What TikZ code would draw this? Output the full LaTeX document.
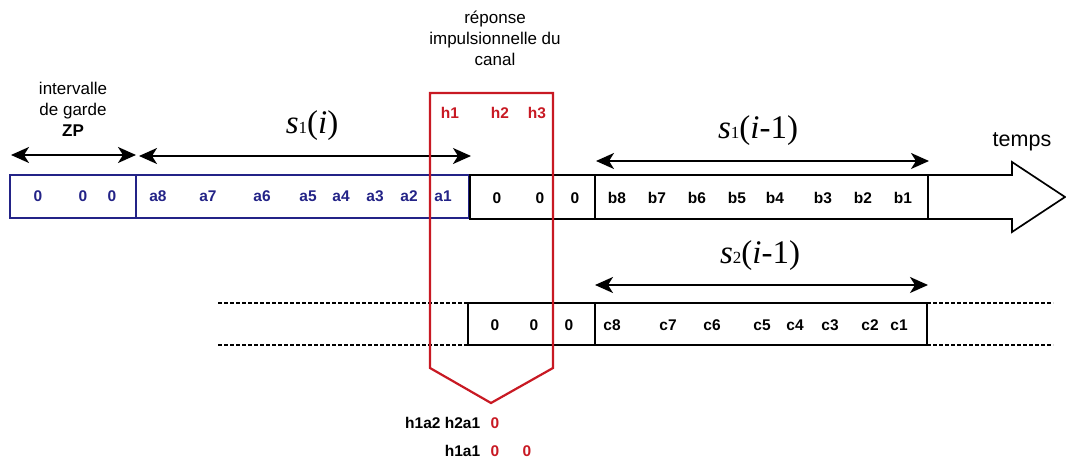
\documentclass[tikz,border=0pt]{standalone}
\usepackage{fontspec}
\setmainfont{Liberation Sans}
\newfontfamily\timesfont{Liberation Serif}
\usetikzlibrary{arrows.meta}
\definecolor{symblue}{RGB}{35,35,135}
\definecolor{chanred}{RGB}{200,25,35}
% s_k(...) labels in Times
\newcommand\symlabel[2]{{\timesfont\fontsize{33}{33}\selectfont\textit{s}{\fontsize{17}{17}\selectfont #1}(#2)}}

\begin{document}
\begin{tikzpicture}[x=1pt,y=-1pt, line width=1.7pt]
\tikzstyle{every node}=[inner sep=0pt]
\tikzstyle{sym}=[font=\bfseries\fontsize{15.5}{15.5}\selectfont]
\tikzstyle{txt}=[font=\fontsize{17}{21}\selectfont, align=center]
\tikzstyle{dim}=[{Stealth[length=18pt,width=16pt,inset=5pt]}-{Stealth[length=18pt,width=16pt,inset=5pt]}, line width=1.9pt]
\tikzstyle{gap}=[line width=1.4pt, dash pattern=on 4pt off 2pt]
\useasboundingbox (0,0) rectangle (1066,462);

% symbol i (blue)
\draw[symblue] (10,175) rectangle (469,218);
\draw[symblue] (136,175) -- (136,218);
\foreach \x/\t [count=\k] in {38/0,83/0,112/0,158/a8,208/a7,262/a6,308/a5,341/a4,375/a3,409/a2,443/a1}
  \node[sym, text=symblue] (a\k) at (\x,196) {\t};

% symbol i-1 on the time arrow
\draw (470,175) -- (1012,175) -- (1012,162) -- (1065,197) -- (1012,232)
      -- (1012,219) -- (470,219) -- cycle;
\draw (595,175) -- (595,219);
\draw (928,175) -- (928,219);
\foreach \x/\t [count=\k] in {497/0,540/0,575/0,617/b8,657/b7,697/b6,737/b5,775/b4,823/b3,863/b2,903/b1}
  \node[sym] (b\k) at (\x,198) {\t};
\node[font=\fontsize{21.5}{21.5}\selectfont] (tps) at (1022,142) {temps};

% second user
\draw (468,303) rectangle (927,345);
\draw (595,303) -- (595,345);
\draw[gap] (218,303) -- (468,303);
\draw[gap] (218,345) -- (468,345);
\draw[gap] (927,303) -- (1053,303);
\draw[gap] (927,345) -- (1053,345);
\foreach \x/\t [count=\k] in {495/0,534/0,569/0,612/c8,668/c7,712/c6,762/c5,795/c4,830/c3,870/c2,899/c1}
  \node[sym] (c\k) at (\x,325) {\t};

% durations
\coordinate (zpL) at (11,155);
\coordinate (zpR) at (136,155);
\coordinate (siL) at (139,156);
\coordinate (siR) at (471,156);
\coordinate (pL) at (596,161);
\coordinate (pR) at (929,161);
\coordinate (qL) at (595,285);
\coordinate (qR) at (928,285);
\draw[dim] (zpL) -- (zpR);
\draw[dim] (siL) -- (siR);
\draw[dim] (pL) -- (pR);
\draw[dim] (qL) -- (qR);
\node[txt] (zp) at (73,109) {intervalle\\de garde\\\textbf{ZP}};
\node (si) at (312,126) {\symlabel{1}{\textit{i}}};
\node (sp) at (758,131) {\symlabel{1}{\textit{i}-1}};
\node (sq) at (760,256) {\symlabel{2}{\textit{i}-1}};

% channel
\draw[chanred, line width=2.2pt] (430,93) -- (553,93) -- (553,368) -- (491,403)
      -- (430,368) -- cycle;
\node[txt] (ch) at (495,38) {réponse\\impulsionnelle du\\canal};
\foreach \x/\t [count=\k] in {450/h1,500/h2,537/h3}
  \node[sym, text=chanred] (h\k) at (\x,113) {\t};

% first received samples
\node[sym, anchor=east] (r1) at (481,423) {h1a2 h2a1};
\node[sym, text=chanred] (r1a) at (495,423) {0};
\node[sym, anchor=east] (r2) at (481,451) {h1a1};
\node[sym, text=chanred] (r2a) at (495,451) {0};
\node[sym, text=chanred] (r2b) at (527,451) {0};
\end{tikzpicture}
\end{document}
